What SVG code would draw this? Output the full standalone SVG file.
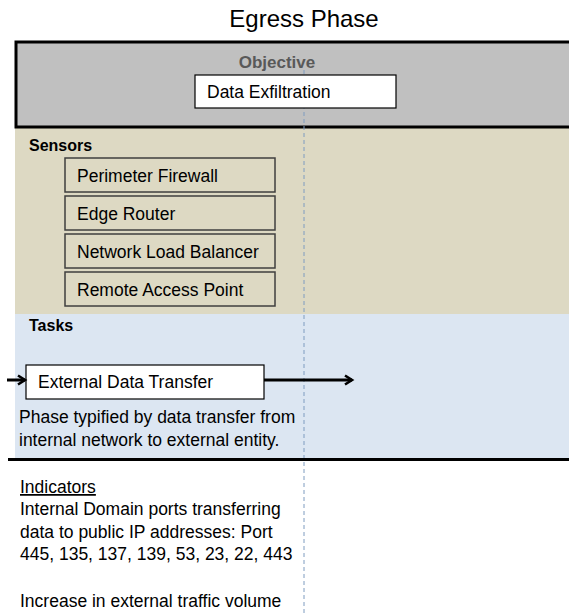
<svg xmlns="http://www.w3.org/2000/svg" width="569" height="613" viewBox="0 0 569 613">
  <defs>
    <marker id="arrow" markerWidth="12" markerHeight="12" refX="9" refY="6" orient="auto" markerUnits="userSpaceOnUse">
      <path d="M2,1.5 L9,6 L2,10.5" fill="none" stroke="#000" stroke-width="2.6"/>
    </marker>
    <style>
      text { font-family: "Liberation Sans", Arial, sans-serif; fill: #000; }
      .title { font-size: 24px; }
      .head { font-size: 16px; font-weight: bold; }
      .label { font-size: 17.5px; }
      .box { fill: #ffffff; stroke: #000; stroke-width: 1.2; }
      .sensor { fill: #ddd9c3; stroke: #3f3f3f; stroke-width: 1.5; }
      .body { font-size: 17.5px; }
      .flow { stroke: #000; stroke-width: 3; }
    </style>
  </defs>

  <rect width="569" height="613" fill="#ffffff"/>

  <text class="title" x="304" y="27" text-anchor="middle">Egress Phase</text>

  <!-- swimlane bands -->
  <rect x="15" y="127" width="560" height="187" fill="#ddd9c3"/>
  <rect x="15" y="314" width="560" height="145" fill="#dce6f2"/>
  <rect x="16" y="42" width="560" height="85" fill="#c0c0c0" stroke="#000" stroke-width="3"/>

  <!-- phase divider -->
  <line x1="304" y1="70" x2="304" y2="613" stroke="#7f9cc0" stroke-width="1" stroke-dasharray="4,3"/>

  <!-- objective -->
  <g id="objective">
    <text class="head" x="277" y="68" text-anchor="middle" style="fill:#595959;font-size:17px">Objective</text>
    <rect class="box" x="195" y="75" width="201" height="33"/>
    <text class="label" x="207" y="98">Data Exfiltration</text>
  </g>

  <!-- sensors -->
  <g id="sensors">
    <text class="head" x="29" y="151">Sensors</text>
    <g id="sensor-firewall">
      <rect class="sensor" x="65" y="158" width="210" height="34"/>
      <text class="label" x="77" y="182">Perimeter Firewall</text>
    </g>
    <g id="sensor-router">
      <rect class="sensor" x="65" y="196" width="210" height="34"/>
      <text class="label" x="77" y="220">Edge Router</text>
    </g>
    <g id="sensor-balancer">
      <rect class="sensor" x="65" y="234" width="210" height="34"/>
      <text class="label" x="77" y="258">Network Load Balancer</text>
    </g>
    <g id="sensor-access">
      <rect class="sensor" x="65" y="272" width="210" height="34"/>
      <text class="label" x="77" y="296">Remote Access Point</text>
    </g>
  </g>

  <!-- tasks -->
  <g id="tasks">
    <text class="head" x="29" y="331">Tasks</text>
    <g id="task-transfer">
      <rect class="box" x="26" y="365" width="238" height="34"/>
      <text class="label" x="38" y="388">External Data Transfer</text>
    </g>
    <text class="body" x="19" y="423">Phase typified by data transfer from</text>
    <text class="body" x="19" y="446">internal network to external entity.</text>
  </g>

  <g id="connectors">
    <line class="flow" x1="7" y1="380" x2="25" y2="380" marker-end="url(#arrow)"/>
    <line class="flow" x1="264" y1="380" x2="352" y2="380" marker-end="url(#arrow)"/>
  </g>

  <line x1="8" y1="459.5" x2="569" y2="459.5" stroke="#000" stroke-width="3"/>

  <!-- indicators -->
  <g id="indicators">
    <text class="body" x="20" y="493" text-decoration="underline">Indicators</text>
    <text class="body" x="20" y="515">Internal Domain ports transferring</text>
    <text class="body" x="20" y="538">data to public IP addresses: Port</text>
    <text class="body" x="20" y="560">445, 135, 137, 139, 53, 23, 22, 443</text>
    <text class="body" x="20" y="607">Increase in external traffic volume</text>
  </g>
</svg>
